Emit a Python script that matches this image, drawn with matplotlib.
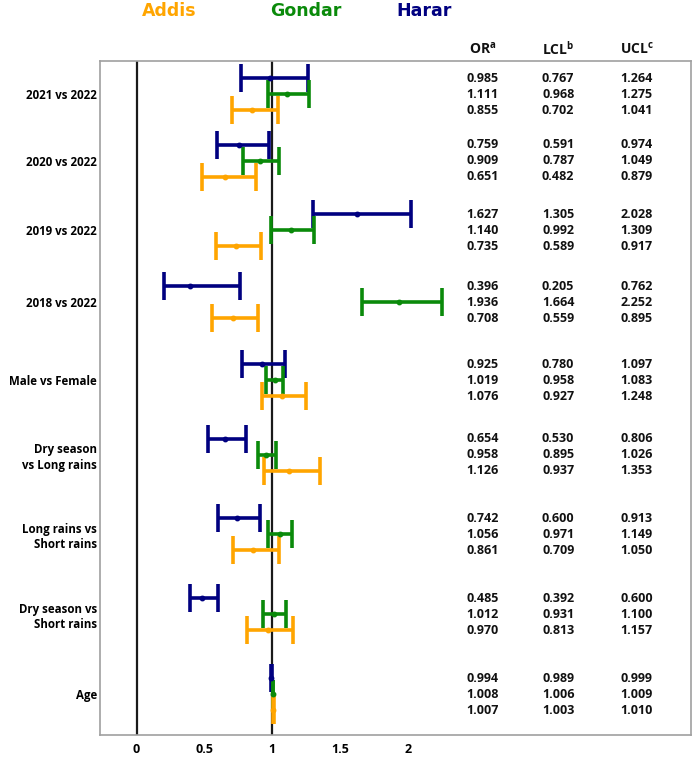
import matplotlib.pyplot as plt

plt.rcParams['font.family'] = ['Open Sans', 'DejaVu Sans']
plt.rcParams['mathtext.fontset'] = 'custom'
plt.rcParams['mathtext.bf'] = 'Open Sans:bold'
plt.rcParams['mathtext.rm'] = 'Open Sans'

# Comparisons (top to bottom)
comparisons = ["2021 vs 2022", "2020 vs 2022", "2019 vs 2022", "2018 vs 2022",
               "Male vs Female", "Dry season\nvs Long rains", "Long rains vs\nShort rains",
               "Dry season vs\nShort rains", "Age"]

# Sites
sites = ["Harar", "Gondar", "Addis"]
colors = {"Harar": "#000080", "Gondar": "#0a8a0a", "Addis": "#ffa500"}

# Odds ratios and 95% limits per site
or_harar = [0.985, 0.759, 1.627, 0.396, 0.925, 0.654, 0.742, 0.485, 0.994]
lcl_harar = [0.767, 0.591, 1.305, 0.205, 0.780, 0.530, 0.600, 0.392, 0.989]
ucl_harar = [1.264, 0.974, 2.028, 0.762, 1.097, 0.806, 0.913, 0.600, 0.999]

or_gondar = [1.111, 0.909, 1.140, 1.936, 1.019, 0.958, 1.056, 1.012, 1.008]
lcl_gondar = [0.968, 0.787, 0.992, 1.664, 0.958, 0.895, 0.971, 0.931, 1.006]
ucl_gondar = [1.275, 1.049, 1.309, 2.252, 1.083, 1.026, 1.149, 1.100, 1.009]

or_addis = [0.855, 0.651, 0.735, 0.708, 1.076, 1.126, 0.861, 0.970, 1.007]
lcl_addis = [0.702, 0.482, 0.589, 0.559, 0.927, 0.937, 0.709, 0.813, 1.003]
ucl_addis = [1.041, 0.879, 0.917, 0.895, 1.248, 1.353, 1.050, 1.157, 1.010]

data = {
    "Harar": (or_harar, lcl_harar, ucl_harar),
    "Gondar": (or_gondar, lcl_gondar, ucl_gondar),
    "Addis": (or_addis, lcl_addis, ucl_addis),
}

# vertical layout (centre of each group, pixel-like units from the top)
group_y = [94, 161, 230, 302, 380, 455, 534, 614, 694]
row_offset = {"Harar": -16, "Gondar": 0, "Addis": 16}

fig = plt.figure(figsize=(6.97, 7.57), dpi=100)
ax = fig.add_axes([100 / 697, 22 / 757, 591 / 697, 674 / 757])

ax.axvline(0, color="#1a1a1a", lw=1.6, zorder=1)
ax.axvline(1, color="#1a1a1a", lw=1.6, zorder=1)

for site in sites:
    est, lo, hi = data[site]
    ys = [g + row_offset[site] for g in group_y]
    err = [[e - l for e, l in zip(est, lo)], [h - e for e, h in zip(est, hi)]]
    ax.errorbar(est, ys, xerr=err, fmt="o", color=colors[site], ms=3.2,
                elinewidth=2.6, capsize=10, capthick=2.6, zorder=3)
    # table on the right
    for y, e, l, h in zip(ys, est, lo, hi):
        for x, v in zip([2.55, 3.11, 3.69], [e, l, h]):
            ax.text(x, y, f"{v:.3f}", ha="center", va="center",
                    fontsize=9, fontweight="bold", color="#111111")

# table header
for x, lab in zip([2.55, 3.11, 3.69], ["OR", "LCL", "UCL"]):
    sup = {"OR": "a", "LCL": "b", "UCL": "c"}[lab]
    ax.text(x, 50, r"$\mathbf{%s}^{\mathbf{%s}}$" % (lab, sup), ha="center", va="center",
            fontsize=10, color="#111111", clip_on=False)

# site legend on top
for x, site in zip([0.24, 1.25, 2.12], ["Addis", "Gondar", "Harar"]):
    ax.text(x, 11, site, ha="center", va="center", fontsize=12.5,
            fontweight="bold", color=colors[site], family="DejaVu Sans", clip_on=False)

ax.set_xlim(-0.27, 4.09)
ax.set_ylim(735, 61)
ax.set_xticks([0, 0.5, 1, 1.5, 2])
ax.set_xticklabels(["0", "0.5", "1", "1.5", "2"], fontsize=9, fontweight="bold")
ax.set_yticks(group_y)
ax.set_yticklabels(comparisons, fontsize=8.3, fontweight="bold", ha="right")
ax.tick_params(axis="y", length=0, pad=2)
ax.tick_params(axis="x", length=0, pad=6)
for s in ax.spines.values():
    s.set_color("#a0a0a0")
    s.set_linewidth(1.2)

plt.savefig("out.png", dpi=100)
